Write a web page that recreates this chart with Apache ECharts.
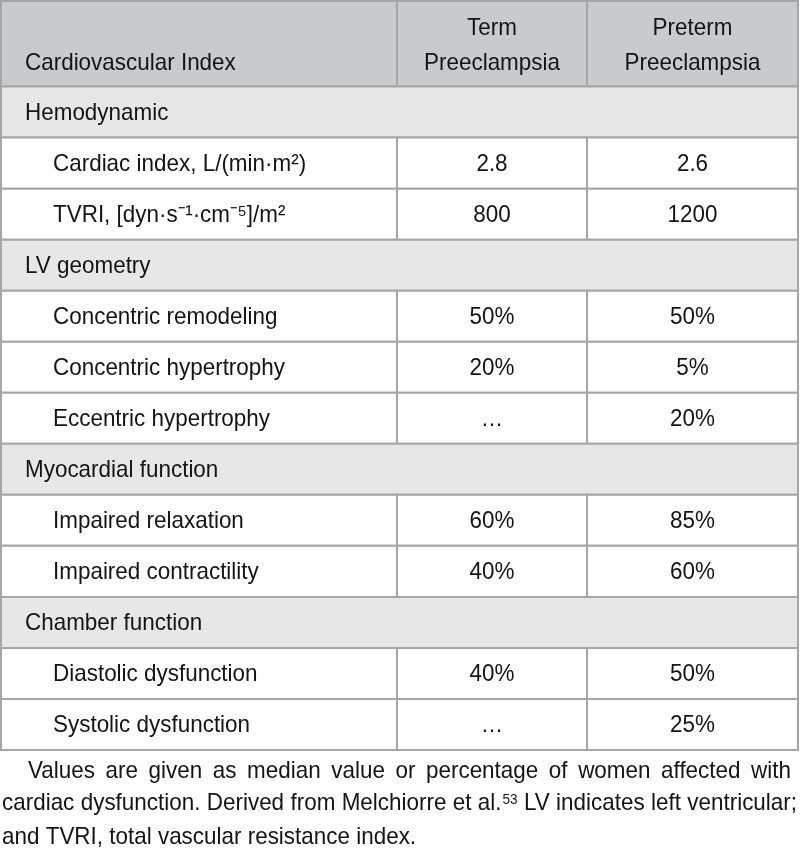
<!DOCTYPE html>
<html><head><meta charset="utf-8">
<script src="https://cdn.jsdelivr.net/npm/echarts@6/dist/echarts.min.js"></script>
<style>html,body{margin:0;padding:0;background:#fff}#chart{width:800px;height:855px}</style>
</head><body><div id="chart"></div>
<script>
// ---------- data ----------
const columnHeaders = ['Cardiovascular Index', 'Term\nPreeclampsia', 'Preterm\nPreeclampsia'];
const rowLabels = ['Hemodynamic', 'Cardiac index, L/(min·m²)', 'TVRI, [dyn·s⁻¹·cm⁻⁵]/m²',
  'LV geometry', 'Concentric remodeling', 'Concentric hypertrophy', 'Eccentric hypertrophy',
  'Myocardial function', 'Impaired relaxation', 'Impaired contractility',
  'Chamber function', 'Diastolic dysfunction', 'Systolic dysfunction'];
const rowIsSection = [true, false, false, true, false, false, false, true, false, false, true, false, false];
const rowUnits = ['', '', '', '', '%', '%', '%', '', '%', '%', '', '%', '%'];
const termValues = [null, 2.8, 800, null, 50, 20, null, null, 60, 40, null, 40, null];
const pretermValues = [null, 2.6, 1200, null, 50, 5, 20, null, 85, 60, null, 50, 25];
const footnoteLines = [
  'Values are given as median value or percentage of women affected with',
  'cardiac dysfunction. Derived from Melchiorre et al.^53 LV indicates left ventricular;',
  'and TVRI, total vascular resistance index.'
];

// ---------- style / layout ----------
const FAMILY = '"Liberation Sans", Arial, sans-serif';
const FS = 24;
const SX = 0.935;          // horizontal squeeze to mimic a condensed face
const TEXT = '#141414';
const BORDER = '#a6a6a6';
const HEADER_BG = '#c9cacc';
const SECTION_BG = '#e7e7e7';
const colEdges = [0, 396, 586, 797];
const HEADER_UNITS = 85.5 / 51;

function fmt(v, unit) { return v == null ? '…' : String(v) + unit; }
function cellRect(x, y, w, h, fill) {
  return { type: 'rect', shape: { x: x, y: y, width: w, height: h },
    style: { fill: fill, stroke: BORDER, lineWidth: 2 } };
}
function cellText(t, x, y, align) {
  return { type: 'text', x: x, y: y, scaleX: SX, scaleY: 1,
    style: { text: t, x: 0, y: 0, fill: TEXT, fontSize: FS,
    fontFamily: FAMILY, align: align, verticalAlign: 'middle' } };
}

function renderHeader(params, api) {
  const top = api.coord([0, -HEADER_UNITS])[1], bot = api.coord([0, 0])[1];
  const xs = colEdges.map(e => api.coord([e, 0])[0]);
  const ch = [];
  for (let c = 0; c < 3; c++) ch.push(cellRect(xs[c], top, xs[c + 1] - xs[c], bot - top, HEADER_BG));
  const l2 = bot - 23, l1 = l2 - 35;
  ch.push(cellText(columnHeaders[0], xs[0] + 24, l2, 'left'));
  for (let c = 1; c < 3; c++) {
    const parts = columnHeaders[c].split('\n');
    const cx = (xs[c] + xs[c + 1]) / 2;
    ch.push(cellText(parts[0], cx, l1, 'center'));
    ch.push(cellText(parts[1], cx, l2, 'center'));
  }
  return { type: 'group', children: ch };
}

function renderRow(params, api) {
  const i = api.value(0);
  const top = api.coord([0, i])[1], bot = api.coord([0, i + 1])[1];
  const xs = colEdges.map(e => api.coord([e, 0])[0]);
  const mid = (top + bot) / 2 + 1;
  const ch = [];
  if (rowIsSection[i]) {
    ch.push(cellRect(xs[0], top, xs[3] - xs[0], bot - top, SECTION_BG));
    ch.push(cellText(rowLabels[i], xs[0] + 24, mid, 'left'));
  } else {
    for (let c = 0; c < 3; c++) ch.push(cellRect(xs[c], top, xs[c + 1] - xs[c], bot - top, '#ffffff'));
    ch.push(cellText(rowLabels[i], xs[0] + 52, mid, 'left'));
    ch.push(cellText(fmt(termValues[i], rowUnits[i]), (xs[1] + xs[2]) / 2, mid, 'center'));
    ch.push(cellText(fmt(pretermValues[i], rowUnits[i]), (xs[2] + xs[3]) / 2, mid, 'center'));
  }
  return { type: 'group', children: ch };
}

// ---------- footnote (justified) ----------
const SUP_FS = 14.5;
const mctx = document.createElement('canvas').getContext('2d');
function measure(t, fs) { mctx.font = fs + 'px ' + FAMILY; return mctx.measureText(t).width * SX; }
const footLayout = [
  { x0: 28, x1: 791, baseline: 779.5, justify: true },
  { x0: 2, x1: 797, baseline: 812, justify: true },
  { x0: 2, x1: 797, baseline: 846, justify: false }
];
const footGraphics = [];
footnoteLines.forEach((line, li) => {
  const L = footLayout[li];
  const words = line.split(' ').map(w => {
    const p = w.split('^');
    const mw = measure(p[0], FS);
    const sw = p[1] ? measure(p[1], SUP_FS) + 1 : 0;
    return { main: p[0], sup: p[1], mw: mw, w: mw + sw };
  });
  const total = words.reduce((s, w) => s + w.w, 0);
  const gap = L.justify ? (L.x1 - L.x0 - total) / (words.length - 1) : measure(' ', FS);
  let x = L.x0;
  const yMid = L.baseline - 0.35 * FS;
  words.forEach(w => {
    footGraphics.push({ type: 'text', x: x, y: yMid, scaleX: SX, style: { text: w.main, fill: TEXT,
      fontSize: FS, fontFamily: FAMILY, align: 'left', verticalAlign: 'middle' } });
    if (w.sup) {
      footGraphics.push({ type: 'text', x: x + w.mw + 1, y: L.baseline - 7 - 0.35 * SUP_FS, scaleX: SX,
        style: { text: w.sup, fill: TEXT, fontSize: SUP_FS, fontFamily: FAMILY,
          align: 'left', verticalAlign: 'middle' } });
    }
    x += w.w + gap;
  });
});

const chart = echarts.init(document.getElementById('chart'), null, { renderer: 'canvas' });
chart.setOption({
  animation: false,
  backgroundColor: '#ffffff',
  grid: { left: 1, top: 1, width: 797, height: 749 },
  xAxis: { type: 'value', min: 0, max: colEdges[3], show: false },
  yAxis: { type: 'value', inverse: true, min: -HEADER_UNITS, max: rowLabels.length, show: false },
  series: [
    { type: 'custom', clip: false, renderItem: renderHeader, data: [[0]], silent: true },
    { type: 'custom', clip: false, renderItem: renderRow, data: rowLabels.map((l, i) => [i]), silent: true }
  ],
  graphic: footGraphics
});
</script></body></html>
